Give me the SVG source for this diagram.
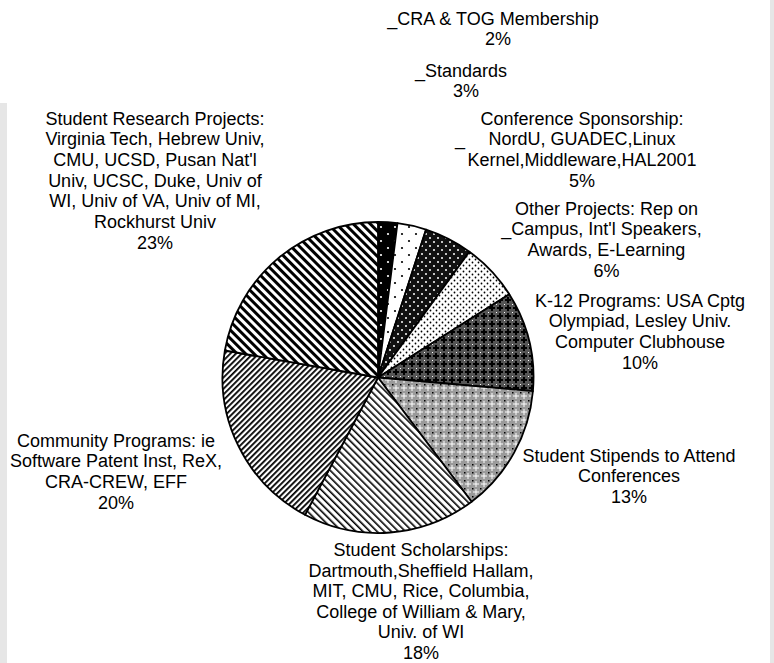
<svg xmlns="http://www.w3.org/2000/svg" width="774" height="663" viewBox="0 0 774 663">
<defs>
<style>
text{font-family:"Liberation Sans",Arial,sans-serif;font-size:18px;fill:#000;text-anchor:middle}
.slice{stroke:#000;stroke-width:1.8;stroke-linejoin:round}
.strip{fill:#e6e6e6}
</style>
<pattern id="pCRA" width="14" height="14" patternUnits="userSpaceOnUse">
<rect width="14" height="14" fill="#000"/>
<circle cx="3" cy="3" r="1.1" fill="#fff"/><circle cx="10" cy="10" r="1.1" fill="#fff"/>
</pattern>
<pattern id="pStd" width="14" height="14" patternUnits="userSpaceOnUse">
<rect width="14" height="14" fill="#fff"/>
<circle cx="3" cy="3" r="1.1" fill="#000"/><circle cx="10" cy="10" r="1.1" fill="#000"/>
</pattern>
<pattern id="pConf" width="8" height="8" patternUnits="userSpaceOnUse">
<rect width="8" height="8" fill="#111"/>
<circle cx="2" cy="2" r="1" fill="#fff"/><circle cx="6" cy="6" r="1" fill="#fff"/>
</pattern>
<pattern id="pOther" width="6" height="6" patternUnits="userSpaceOnUse">
<rect width="6" height="6" fill="#fff"/>
<circle cx="1.5" cy="1.5" r="0.9" fill="#000"/><circle cx="4.5" cy="4.5" r="0.9" fill="#000"/>
</pattern>
<pattern id="pK12" width="8" height="8" patternUnits="userSpaceOnUse">
<rect width="8" height="8" fill="#555"/>
<rect x="3" y="1" width="2" height="6" fill="#000"/><rect x="1" y="3" width="6" height="2" fill="#000"/>
<rect x="0" y="0" width="1" height="1" fill="#fff"/>
</pattern>
<pattern id="pStip" width="8" height="8" patternUnits="userSpaceOnUse">
<rect width="8" height="8" fill="#9a9a9a"/>
<rect x="3.5" y="1" width="1" height="6" fill="#fff"/><rect x="1" y="3.5" width="6" height="1" fill="#fff"/>
<rect x="0" y="0" width="1.5" height="1.5" fill="#000"/>
</pattern>
<pattern id="pSchol" width="5" height="10" patternUnits="userSpaceOnUse" patternTransform="rotate(-45)">
<rect width="5" height="10" fill="#fff"/>
<rect width="1.6" height="10" fill="#000"/>
</pattern>
<pattern id="pComm" width="4" height="10" patternUnits="userSpaceOnUse" patternTransform="rotate(45)">
<rect width="4" height="10" fill="#fff"/>
<rect width="1.8" height="10" fill="#000"/>
</pattern>
<pattern id="pRes" width="6" height="10" patternUnits="userSpaceOnUse" patternTransform="rotate(-45)">
<rect width="6" height="10" fill="#fff"/>
<rect width="3" height="10" fill="#000"/>
</pattern>
</defs>
<rect width="774" height="663" fill="#fff"/>
<rect class="strip" x="0" y="103" width="7" height="560"/>
<rect class="strip" x="770" y="0" width="4" height="663"/>

<g id="connectors"></g>

<g id="cra">
<path class="slice" fill="url(#pCRA)" d="M378,377.5 L378,222 A155.5,155.5 0 0 1 397.49,223.23 Z"/>
<text x="493" y="24.5">_CRA &amp; TOG Membership</text>
<text x="498" y="45.2">2%</text>
</g>
<g id="standards">
<path class="slice" fill="url(#pStd)" d="M378,377.5 L397.49,223.23 A155.5,155.5 0 0 1 426.05,229.61 Z"/>
<text x="461" y="76.5">_Standards</text>
<text x="466" y="97.2">3%</text>
</g>
<g id="conference">
<path class="slice" fill="url(#pConf)" d="M378,377.5 L426.05,229.61 A155.5,155.5 0 0 1 469.40,251.70 Z"/>
<text x="582" y="124.7">Conference Sponsorship:</text>
<text x="582" y="145.4">NordU, GUADEC,Linux</text>
<text x="582" y="166.1">Kernel,Middleware,HAL2001</text>
<text x="582" y="186.8">5%</text>
<text x="460" y="144.5">_</text>
</g>
<g id="other">
<path class="slice" fill="url(#pOther)" d="M378,377.5 L469.40,251.70 A155.5,155.5 0 0 1 509.29,294.18 Z"/>
<text x="606.5" y="214.7">Other Projects: Rep on</text>
<text x="601.5" y="235.4">_Campus, Int'l Speakers,</text>
<text x="606.5" y="256.1">Awards, E-Learning</text>
<text x="606.5" y="276.8">6%</text>
</g>
<g id="k12">
<path class="slice" fill="url(#pK12)" d="M378,377.5 L509.29,294.18 A155.5,155.5 0 0 1 532.91,391.05 Z"/>
<text x="640" y="306.5">K-12 Programs: USA Cptg</text>
<text x="640" y="327.2">Olympiad, Lesley Univ.</text>
<text x="640" y="347.9">Computer Clubhouse</text>
<text x="640" y="368.6">10%</text>
</g>
<g id="stipends">
<path class="slice" fill="url(#pStip)" d="M378,377.5 L532.91,391.05 A155.5,155.5 0 0 1 471.58,501.69 Z"/>
<text x="629" y="461.5">Student Stipends to Attend</text>
<text x="629" y="482.2">Conferences</text>
<text x="629" y="502.9">13%</text>
</g>
<g id="scholarships">
<path class="slice" fill="url(#pSchol)" d="M378,377.5 L471.58,501.69 A155.5,155.5 0 0 1 305.00,514.80 Z"/>
<text x="421" y="556">Student Scholarships:</text>
<text x="421" y="576.6">Dartmouth,Sheffield Hallam,</text>
<text x="421" y="597.2">MIT, CMU, Rice, Columbia,</text>
<text x="421" y="617.8">College of William &amp; Mary,</text>
<text x="421" y="638.4">Univ. of WI</text>
<text x="421" y="659">18%</text>
</g>
<g id="community">
<path class="slice" fill="url(#pComm)" d="M378,377.5 L305.00,514.80 A155.5,155.5 0 0 1 224.86,350.50 Z"/>
<text x="116" y="446.5">Community Programs: ie</text>
<text x="116" y="467.2">Software Patent Inst, ReX,</text>
<text x="116" y="487.9">CRA-CREW, EFF</text>
<text x="116" y="508.6">20%</text>
</g>
<g id="research">
<path class="slice" fill="url(#pRes)" d="M378,377.5 L224.86,350.50 A155.5,155.5 0 0 1 378,222 Z"/>
<text x="155" y="124.5">Student Research Projects:</text>
<text x="155" y="145.2">Virginia Tech, Hebrew Univ,</text>
<text x="155" y="165.9">CMU, UCSD, Pusan Nat'l</text>
<text x="155" y="186.6">Univ, UCSC, Duke, Univ of</text>
<text x="155" y="207.3">WI, Univ of VA, Univ of MI,</text>
<text x="155" y="228">Rockhurst Univ</text>
<text x="155" y="248.7">23%</text>
</g>
</svg>
